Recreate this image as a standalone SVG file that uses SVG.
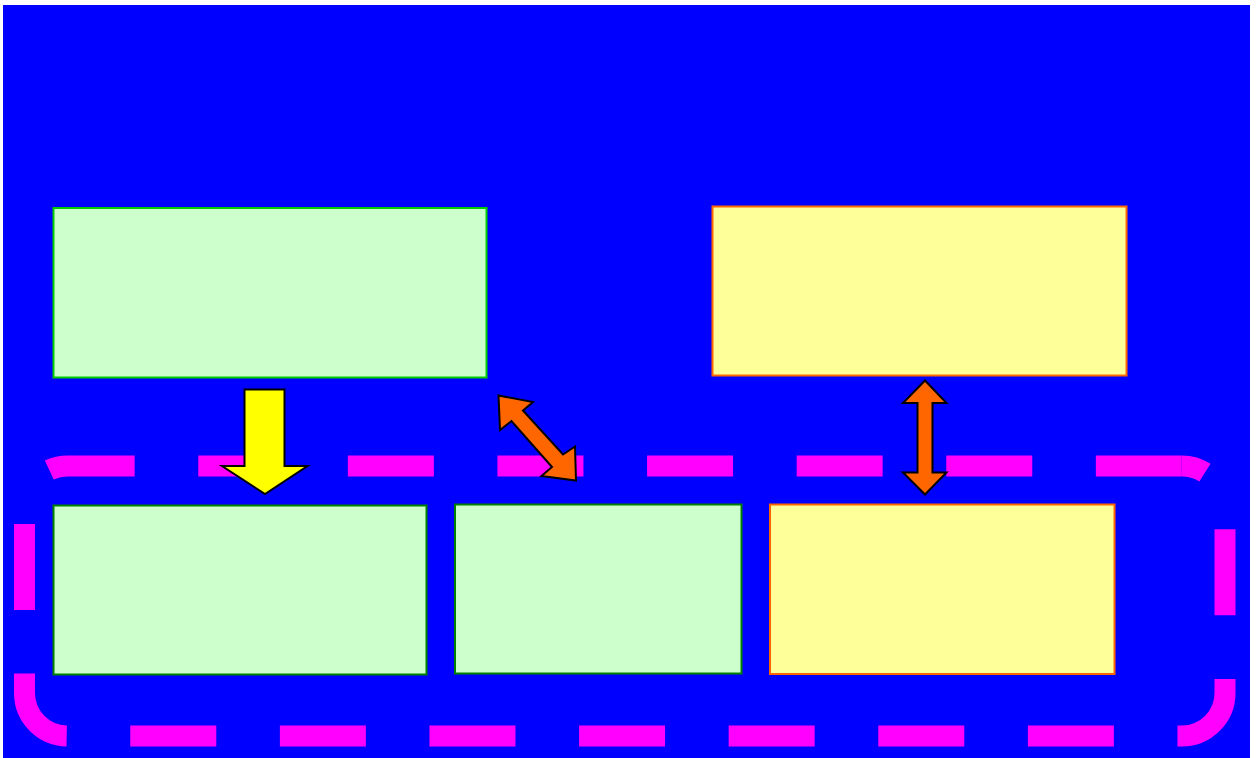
<svg xmlns="http://www.w3.org/2000/svg" width="1256" height="758" viewBox="0 0 1256 758">
  <style>
    .bg { fill: #0000ff; }
    .group { fill: none; stroke: #ff00ff; stroke-width: 21; stroke-dasharray: 86 63.6; stroke-dashoffset: 61.8; stroke-linecap: butt; }
    .green { fill: #ccffcc; stroke: #00cc00; stroke-width: 2; }
    .dgreen { fill: #ccffcc; stroke: #008000; stroke-width: 2; }
    .yellow { fill: #ffff99; stroke: #ff6600; stroke-width: 2; }
    .arrow-y { fill: #ffff00; stroke: #000000; stroke-width: 2; stroke-linejoin: miter; }
    .arrow-o { fill: #ff6600; stroke: #000000; stroke-width: 2; stroke-linejoin: miter; }
  </style>
  <rect class="bg" x="3" y="5" width="1247" height="753"/>
  <g id="container">
    <path class="group" d="M1182,466 A43,43 0 0 1 1225,509 L1225,693 A43,43 0 0 1 1182,736 L67.5,736 A43,43 0 0 1 24.5,693 L24.5,509 A43,43 0 0 1 67.5,466 Z"/>
  </g>
  <g id="node-top-left">
    <rect class="green" x="53.5" y="208" width="433" height="169.5"/>
  </g>
  <g id="node-top-right">
    <rect class="yellow" x="712.5" y="206.5" width="414" height="169"/>
  </g>
  <g id="node-bottom-left">
    <rect class="dgreen" x="53.5" y="505.5" width="373" height="169"/>
  </g>
  <g id="node-bottom-middle">
    <rect class="dgreen" x="455" y="504.5" width="286.5" height="169"/>
  </g>
  <g id="node-bottom-right">
    <rect class="yellow" x="770" y="504.5" width="344.5" height="169.5"/>
  </g>
  <g id="connectors">
    <path class="arrow-y" d="M244.5,389.5 L284.5,389.5 L284.5,466 L307.5,466 L265,494 L222,466 L244.5,466 Z"/>
    <path class="arrow-o" d="M498.5,395.5 L533,402 L523,410.5 L563,454.5 L575,446.5 L576,480.5 L541.5,476 L552,467 L511.5,421 L500,430 Z"/>
    <path class="arrow-o" d="M925,380.5 L946.5,403 L932.5,403 L932.5,472.5 L946.5,472.5 L925,494.5 L903,472.5 L917.5,472.5 L917.5,403 L903,403 Z"/>
  </g>
</svg>
